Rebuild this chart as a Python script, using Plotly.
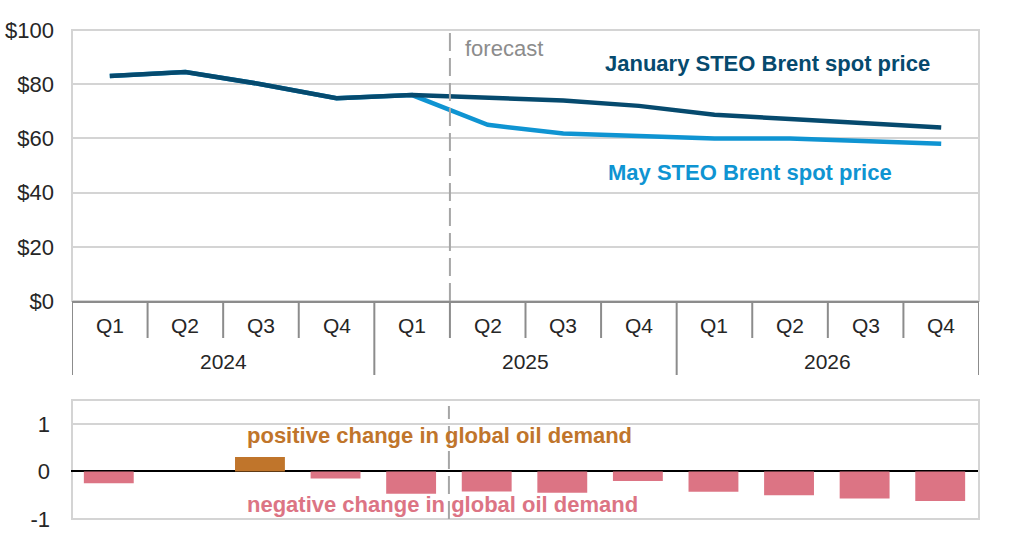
import plotly.graph_objects as go

years = ["2024"]*4 + ["2025"]*4 + ["2026"]*4
quarters = ["Q1","Q2","Q3","Q4"]*3
january = [83, 84.5, 80, 74.8, 76, 75, 74, 72, 68.7, 67.2, 65.6, 64]
may = [83, 84.5, 80, 74.8, 76, 65, 61.8, 60.7, 60, 60, 58.8, 58]
demand = [-0.25, None, 0.3, -0.15, -0.47, -0.42, -0.45, -0.2, -0.43, -0.5, -0.57, -0.62]
price_ticks = [0, 20, 40, 60, 80, 100]
price_labels = ["$0", "$20", "$40", "$60", "$80", "$100"]
demand_ticks = [-1, 0, 1]
demand_labels = ["-1", "0", "1"]
W, H = 1024, 541
FONT = "Liberation Sans"
TXT = "#262626"
GRID = "#D4D4D4"
AXIS = "#8C8C8C"
DASH = "#A6A6A6"
DARK = "#064a6e"
LIGHT = "#0f94d2"
ORANGE = "#c0752b"
PINK = "#dc7484"
px = lambda x: x / W
py = lambda y: (H - y) / H

fig = go.Figure()
x = [years, quarters]
fig.add_trace(go.Scatter(x=x, y=may, mode="lines", line=dict(color=LIGHT, width=4.5), xaxis="x", yaxis="y", showlegend=False, hoverinfo="skip"))
fig.add_trace(go.Scatter(x=x, y=january, mode="lines", line=dict(color=DARK, width=4.5), xaxis="x", yaxis="y", showlegend=False, hoverinfo="skip"))
fig.add_trace(go.Bar(x=x, y=demand, marker=dict(color=[ORANGE if (v or 0) > 0 else PINK for v in demand], line_width=0),
                     xaxis="x2", yaxis="y2", showlegend=False, hoverinfo="skip"))

def note(text, xp, yp, color, bold=True, size=22):
    return dict(text=f"<b>{text}</b>" if bold else text, xref="paper", yref="paper", x=px(xp), y=py(yp),
                xanchor="left", yanchor="middle", showarrow=False, font=dict(color=color, size=size, family=FONT))

def axis_text(text, pos, yp):
    return dict(text=text, xref="x", yref="paper", x=pos, y=py(yp), xanchor="center", yanchor="middle",
                showarrow=False, font=dict(color=TXT, size=21, family=FONT))

annotations = [
    note("forecast", 463, 48, "#8C8C8C", bold=False),
    note("January STEO Brent spot price", 603, 63, DARK),
    note("May STEO Brent spot price", 606, 172, LIGHT),
    note("positive change in global oil demand", 245, 435, ORANGE),
    note("negative change in global oil demand", 245, 504, PINK),
]
annotations += [axis_text(q, i, 325) for i, q in enumerate(quarters)]
for i in range(0, len(years), 4):
    annotations.append(axis_text(years[i], i + 1.5, 361))

shapes = [
    dict(type="rect", xref="paper", yref="paper", x0=px(72), x1=px(979), y0=py(301), y1=py(30), line=dict(color=GRID, width=2), layer="below"),
    dict(type="rect", xref="paper", yref="paper", x0=px(72), x1=px(979), y0=py(519), y1=py(400), line=dict(color=GRID, width=2), layer="below"),
    dict(type="line", xref="x", yref="paper", x0=4.5, x1=4.5, y0=py(301), y1=py(30), line=dict(color=DASH, width=2, dash="18px,7px")),
    dict(type="line", xref="x2", yref="paper", x0=4.5, x1=4.5, y0=py(519), y1=py(406), line=dict(color=DASH, width=2, dash="18px,7px")),
]
for i in range(13):
    b = i - 0.5
    bottom = 375 if i % 4 == 0 else 338
    shapes.append(dict(type="line", xref="x", yref="paper", x0=b, x1=b, y0=py(bottom), y1=py(301), line=dict(color=AXIS, width=2)))

fig.update_layout(
    width=W, height=H, margin=dict(l=0, r=0, t=0, b=0), autosize=False,
    paper_bgcolor="white", plot_bgcolor="white", bargap=0.34,
    font=dict(family=FONT, size=21, color=TXT),
    xaxis=dict(domain=[px(72), px(979)], anchor="y", type="multicategory", range=[-0.5, 11.5], automargin=False,
               showline=True, linecolor=AXIS, linewidth=2, showticklabels=False,
               ticks="", showdividers=False, showgrid=False),
    yaxis=dict(domain=[py(301), py(30)], range=[0, 100], tickmode="array", tickvals=price_ticks, ticktext=price_labels, automargin=False,
               gridcolor=GRID, gridwidth=2, zeroline=False, showline=False, ticks="", ticklabelstandoff=17, tickfont=dict(size=22, color=TXT)),
    xaxis2=dict(domain=[px(71), px(978)], anchor="y2", type="multicategory", range=[-0.5, 11.5], automargin=False,
                showticklabels=False, ticks="", showdividers=False, showline=False, showgrid=False),
    yaxis2=dict(domain=[py(519), py(400)], range=[-1, 1.5], tickmode="array", tickvals=demand_ticks, ticktext=demand_labels, automargin=False,
                gridcolor=GRID, gridwidth=2, zeroline=True, zerolinecolor="black", zerolinewidth=2, showline=False, ticks="",
                ticklabelstandoff=21, tickfont=dict(size=22, color=TXT)),
    shapes=shapes,
    annotations=annotations,
)
fig.write_html("out.html", config={"displayModeBar": False}, post_script="document.body.style.margin='0';")
